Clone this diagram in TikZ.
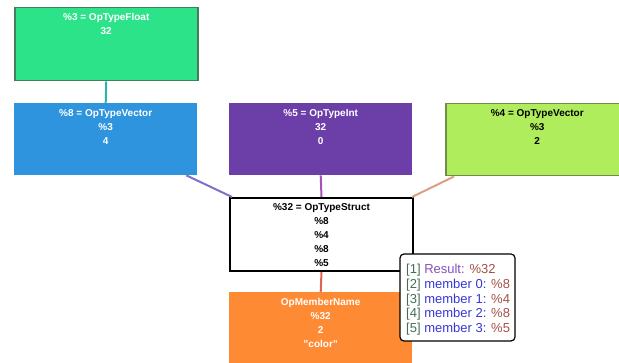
\documentclass[tikz,border=0pt]{standalone}
\usepackage{fontspec}
\setmainfont{Liberation Sans}
\definecolor{cFloat}{RGB}{45,227,138}
\definecolor{cFloatEdge}{RGB}{70,125,90}
\definecolor{cVec4}{RGB}{46,148,222}
\definecolor{cInt}{RGB}{108,62,168}
\definecolor{cVec2}{RGB}{175,237,92}
\definecolor{cVec2Edge}{RGB}{112,140,72}
\definecolor{cName}{RGB}{255,138,52}
\definecolor{lTeal}{RGB}{40,182,172}
\definecolor{lBlue}{RGB}{128,112,204}
\definecolor{lPurple}{RGB}{165,82,180}
\definecolor{lTan}{RGB}{218,160,130}
\definecolor{lRed}{RGB}{226,98,80}
\definecolor{tIdx}{RGB}{70,110,85}
\definecolor{tRes}{RGB}{135,80,190}
\definecolor{tMem}{RGB}{55,55,215}
\definecolor{tVal}{RGB}{165,80,72}
\begin{document}
\begin{tikzpicture}[x=1pt,y=-1pt,
  typebox/.style={anchor=north west, inner sep=0pt, minimum width=183pt, minimum height=73pt},
  lbl/.style={anchor=north, inner sep=0pt, align=center,
    font=\bfseries\fontsize{10}{14}\selectfont},
  link/.style={line width=2pt},
  tip/.style={anchor=north west, inner sep=0pt, align=left,
    font=\fontsize{13}{14.7}\selectfont}]
\useasboundingbox (0,0) rectangle (619,363);

% type nodes
\node[typebox, fill=cFloat, draw=cFloatEdge, line width=1.5pt] (float) at (14,7) {};
\node[typebox, fill=cVec4, minimum height=72pt] (vec4) at (14,103) {};
\node[typebox, fill=cInt, minimum height=72pt] (int) at (229,103) {};
\node[typebox, fill=cVec2, draw=cVec2Edge, line width=1.5pt, minimum height=72pt] (vec2) at (445,103) {};
\node[typebox, fill=white, draw=black, line width=2pt] (struct) at (229,197) {};
\node[typebox, fill=cName] (name) at (229,292) {};

% connectors
\draw[link, lTeal] (float.south) -- (vec4.north);
\draw[link, lBlue] ([xshift=-11pt]vec4.south east) -- ([xshift=3pt]struct.north west);
\draw[link, lPurple] (int.south) -- (struct.north);
\draw[link, lTan] ([xshift=9pt]vec2.south west) -- ([xshift=-2pt]struct.north east);
\draw[link, lRed] (struct.south) -- (name.north);

% labels
\node[lbl, text=white] (floatT) at ([yshift=-6pt]float.north) {\%3 = OpTypeFloat\\32};
\node[lbl, text=white] (vec4T) at ([yshift=-6pt]vec4.north) {\%8 = OpTypeVector\\\%3\\4};
\node[lbl, text=white] (intT) at ([yshift=-6pt]int.north) {\%5 = OpTypeInt\\32\\0};
\node[lbl, text=black] (vec2T) at ([yshift=-6pt]vec2.north) {\%4 = OpTypeVector\\\%3\\2};
\node[lbl, text=black] (structT) at ([yshift=-6pt]struct.north) {\%32 = OpTypeStruct\\\%8\\\%4\\\%8\\\%5};
\node[lbl, text=white] (nameT) at ([yshift=-6pt]name.north) {OpMemberName\\\%32\\2\\"color"};

% operand tooltip
\draw[fill=white, draw=black, line width=1.2pt, rounded corners=4pt] (400,254) rectangle (515,341);
\node[tip] (tipT) at (406,264) {%
  \textcolor{tIdx}{[1]} \textcolor{tRes}{Result:} \textcolor{tVal}{\%32}\\
  \textcolor{tIdx}{[2]} \textcolor{tMem}{member 0:} \textcolor{tVal}{\%8}\\
  \textcolor{tIdx}{[3]} \textcolor{tMem}{member 1:} \textcolor{tVal}{\%4}\\
  \textcolor{tIdx}{[4]} \textcolor{tMem}{member 2:} \textcolor{tVal}{\%8}\\
  \textcolor{tIdx}{[5]} \textcolor{tMem}{member 3:} \textcolor{tVal}{\%5}};
\end{tikzpicture}
\end{document}
